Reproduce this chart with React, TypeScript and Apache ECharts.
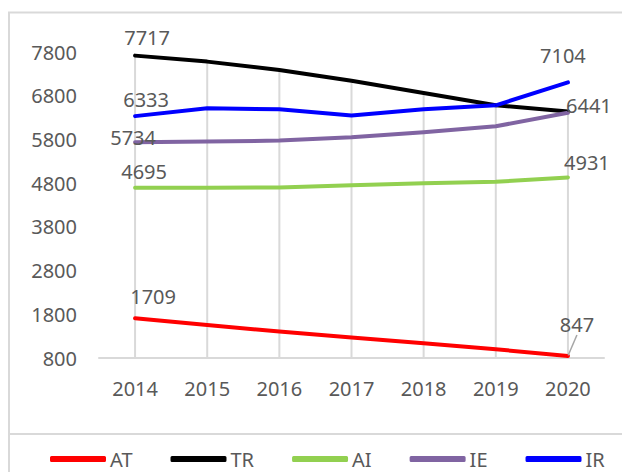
import React, { useEffect, useRef } from "react";
import * as echarts from "echarts";

const years = ["2014", "2015", "2016", "2017", "2018", "2019", "2020"];
const AT = [1709, 1556, 1405, 1268, 1137, 1000, 847];
const TR = [7717, 7580, 7390, 7140, 6860, 6580, 6441];
const AI = [4695, 4695, 4700, 4750, 4800, 4830, 4931];
const IE = [5734, 5750, 5775, 5850, 5965, 6100, 6410];
const IR = [6333, 6515, 6490, 6350, 6490, 6580, 7104];
const yTicks = { min: 800, max: 7800, interval: 1000 };

const FONT = "Noto Sans";
const TXT = "#595959";

type Lbl = { [idx: number]: [number, number] };

const seriesDefs: { name: string; data: number[]; color: string; labels: Lbl; leader?: number }[] = [
  { name: "AT", data: AT, color: "#ff0000", labels: { 0: [18, -22], 6: [9, -31] }, leader: 6 },
  { name: "TR", data: TR, color: "#000000", labels: { 0: [12, -18], 6: [21, -6] } },
  { name: "AI", data: AI, color: "#92d050", labels: { 0: [9, -16], 6: [19, -15] } },
  { name: "IE", data: IE, color: "#8064a2", labels: { 0: [-2, -5] } },
  { name: "IR", data: IR, color: "#0000ff", labels: { 0: [11, -17], 6: [-5, -27] } },
];

export default function App() {
  const ref = useRef<HTMLDivElement>(null);
  useEffect(() => {
    if (!ref.current) return;
    const chart = echarts.init(ref.current, null, { renderer: "svg" });

    const lineSeries = seriesDefs.map((s) => ({
      name: s.name,
      type: "line",
      z: 3,
      symbol: "circle",
      symbolSize: 1,
      lineStyle: { color: s.color, width: 4, join: "round", cap: "round" },
      itemStyle: { color: s.color },
      label: { show: false },
      emphasis: { disabled: true },
      labelLayout: (p: any) => {
        const off = s.labels[p.dataIndex];
        return off ? { dx: off[0], dy: off[1] } : {};
      },
      data: s.data.map((v, i) =>
        s.labels[i]
          ? {
              value: v,
              label: {
                show: true,
                position: "inside",
                color: TXT,
                fontFamily: FONT,
                fontSize: 20,
              },
              labelLine:
                s.leader === i
                  ? { show: true, lineStyle: { color: "#a6a6a6", width: 1.5 } }
                  : { show: false },
            }
          : v
      ),
    }));

    const dropSeries = {
      name: "drop",
      type: "custom",
      z: 1,
      silent: true,
      renderItem: (params: any, api: any) => {
        const idx = api.value(0);
        const v = api.value(1);
        const top = api.coord([idx, v]);
        const bot = api.coord([idx, yTicks.min]);
        return {
          type: "line",
          shape: { x1: top[0], y1: top[1], x2: bot[0], y2: bot[1] },
          style: { stroke: "#d9d9d9", lineWidth: 2 },
        };
      },
      data: TR.map((v, i) => [i, v]),
    };

    chart.setOption({
      animation: false,
      backgroundColor: "#ffffff",
      textStyle: { fontFamily: FONT },
      grid: { left: 99, right: 18, top: 52, bottom: 114, containLabel: false },
      legend: {
        data: seriesDefs.map((s) => s.name),
        left: 50,
        top: 449,
        padding: 0,
        icon: "roundRect",
        itemWidth: 56,
        itemHeight: 6,
        itemGap: 38,
        textStyle: { color: TXT, fontFamily: FONT, fontSize: 20, padding: [0, 0, 0, -1] },
        selectedMode: false,
      },
      xAxis: {
        type: "category",
        data: years,
        boundaryGap: true,
        axisLine: { show: true, lineStyle: { color: "#d9d9d9", width: 2 } },
        axisTick: { show: false },
        axisLabel: { color: TXT, fontFamily: FONT, fontSize: 20, margin: 20 },
        splitLine: { show: false },
      },
      yAxis: {
        type: "value",
        min: yTicks.min,
        max: yTicks.max,
        interval: yTicks.interval,
        axisLine: { show: false },
        axisTick: { show: false },
        splitLine: { show: false },
        axisLabel: {
          color: TXT,
          fontFamily: FONT,
          fontSize: 20,
          margin: 22,
          formatter: (v: number) => String(v),
        },
      },
      graphic: [
        {
          type: "rect",
          shape: { x: 9, y: 12.5, width: 800, height: 600 },
          style: { fill: "none", stroke: "#d9d9d9", lineWidth: 2 },
          silent: true,
          z: 0,
        },
        {
          type: "line",
          shape: { x1: 9, y1: 434, x2: 622, y2: 434 },
          style: { stroke: "#d9d9d9", lineWidth: 2 },
          silent: true,
          z: 0,
        },
      ],
      series: [dropSeries, ...lineSeries],
    });
    return () => chart.dispose();
  }, []);

  return (
    <div
      ref={ref}
      style={{ position: "fixed", left: 0, top: 0, width: 622, height: 472 }}
    />
  );
}
